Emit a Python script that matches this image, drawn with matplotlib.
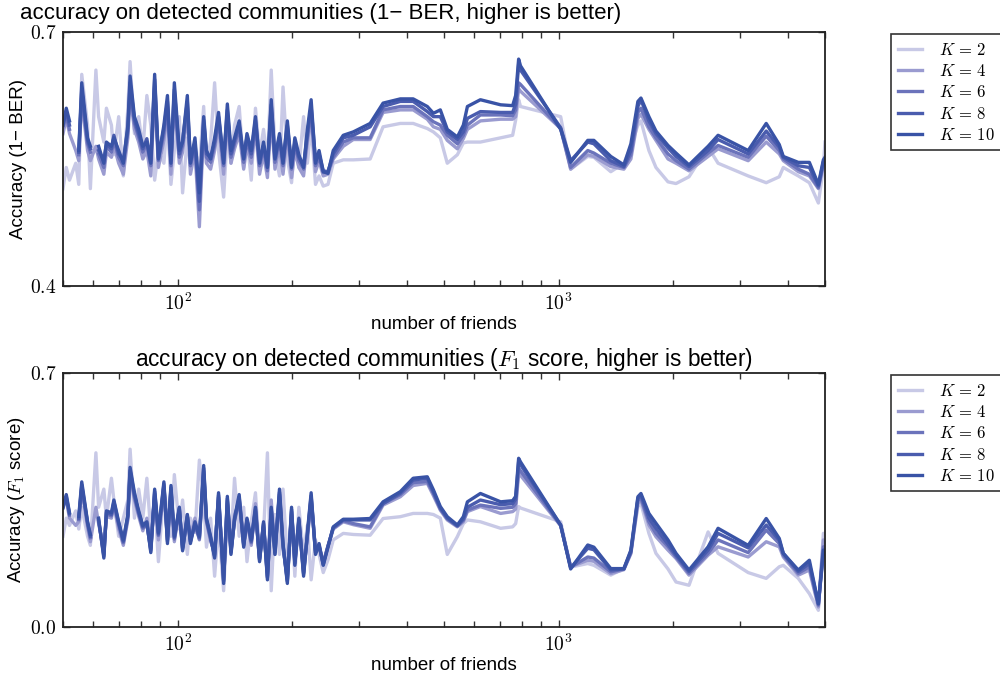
import numpy as np
import matplotlib
matplotlib.use("Agg")
import matplotlib.pyplot as plt
from matplotlib.ticker import FixedLocator, FixedFormatter, NullFormatter, LogLocator

nan = np.nan

plt.rcParams['font.family'] = ['Liberation Sans', 'DejaVu Sans']
plt.rcParams['mathtext.fontset'] = 'cm'

# number of friends: dense part (noisy, small ego nets) and sparse part (large ego nets)
friends_dense = [50, 51, 52, 54, 55, 56, 58, 59, 61, 62,
                 64, 65, 67, 68, 70, 72, 74, 75, 77, 79,
                 81, 83, 85, 87, 89, 92, 94, 96, 98, 101,
                 103, 106, 108, 111, 114, 117, 119, 122, 125, 128,
                 132, 135, 138, 141, 145, 149, 152, 156, 160, 164,
                 168, 172, 176, 180, 185, 189, 194, 199, 203, 208,
                 214, 219, 224, 230, 235, 241]
friends_sparse = [248, 256, 272, 289, 320, 346, 384, 415, 452, 469,
                  489, 510, 542, 562, 576, 623, 704, 757, 771, 785,
                  794, 1012, 1075, 1192, 1237, 1370, 1483, 1547, 1614, 1644,
                  1725, 1800, 1936, 2032, 2198, 2467, 2620, 3143, 3505, 3793,
                  3886, 4255, 4549, 4804, 4951, 5000]

k_values = [2, 4, 6, 8, 10]
colors = ['#c8c9e6', '#9a9bd0', '#6b73bb', '#4a5cae', '#3953a6']

# 1 - BER
ber_k2_dense = [0.515, 0.540, 0.525, 0.545, 0.520, 0.650, 0.590, 0.515, 0.655, 0.600,
                0.570, 0.610, 0.590, 0.555, 0.600, 0.530, 0.610, 0.665, 0.580, 0.600,
                0.560, 0.625, 0.590, 0.525, 0.560, 0.545, 0.600, 0.520, 0.560, 0.600,
                0.510, 0.575, 0.540, 0.560, 0.540, 0.612, 0.545, 0.570, 0.640, 0.560,
                0.505, 0.580, 0.545, 0.590, 0.612, 0.540, 0.575, 0.525, 0.610, 0.555,
                0.585, 0.545, 0.655, 0.560, 0.530, 0.635, 0.550, 0.522, 0.570, 0.540,
                0.600, 0.545, 0.590, 0.520, 0.530, 0.518]
ber_k4_dense = [0.580, 0.598, 0.580, 0.560, 0.548, 0.620, 0.560, 0.548, 0.565, 0.550,
                0.532, 0.558, 0.552, 0.566, 0.545, 0.532, 0.575, 0.625, 0.585, 0.570,
                0.550, 0.560, 0.530, 0.630, 0.540, 0.572, 0.605, 0.532, 0.618, 0.545,
                0.558, 0.605, 0.532, 0.560, 0.470, 0.588, 0.545, 0.538, 0.560, 0.590,
                0.532, 0.598, 0.545, 0.562, 0.580, 0.538, 0.566, 0.545, 0.585, 0.532,
                0.556, 0.528, 0.600, 0.538, 0.565, 0.532, 0.580, 0.528, 0.560, 0.540,
                0.530, 0.570, 0.600, 0.535, 0.548, 0.530]
ber_k6_dense = [0.588, 0.600, 0.585, nan, 0.555, 0.625, 0.568, 0.558, nan, 0.556,
                0.540, 0.565, 0.558, 0.572, 0.552, 0.542, 0.582, 0.632, 0.592, 0.576,
                0.558, 0.568, 0.542, 0.636, 0.548, 0.580, 0.612, 0.542, 0.626, 0.552,
                0.566, 0.612, 0.542, 0.566, 0.490, 0.592, 0.552, 0.546, 0.566, 0.596,
                0.542, 0.602, 0.552, 0.568, 0.586, 0.546, 0.572, 0.552, 0.590, 0.542,
                0.562, 0.536, 0.608, 0.546, 0.572, 0.542, 0.586, 0.538, 0.566, 0.548,
                0.538, 0.576, 0.606, 0.542, 0.552, 0.534]
ber_k8_dense = [0.592, 0.606, 0.590, nan, 0.558, 0.632, 0.572, 0.562, nan, 0.560,
                0.548, 0.568, 0.562, 0.578, 0.556, 0.548, 0.586, 0.640, 0.596, 0.580,
                0.562, 0.574, 0.548, 0.644, 0.552, 0.586, 0.618, 0.548, 0.632, 0.556,
                0.572, 0.618, 0.548, 0.570, 0.500, 0.596, 0.556, 0.552, 0.570, 0.600,
                0.548, 0.608, 0.556, 0.572, 0.590, 0.552, 0.576, 0.556, 0.596, 0.548,
                0.566, 0.542, 0.614, 0.552, 0.576, 0.548, 0.590, 0.542, 0.570, 0.552,
                0.542, 0.580, 0.612, 0.548, 0.556, 0.536]
ber_k10_dense = [0.590, 0.610, 0.595, nan, 0.560, 0.640, 0.575, 0.565, nan, 0.565,
                 0.545, 0.570, 0.565, 0.575, 0.560, 0.545, 0.590, 0.648, 0.600, 0.585,
                 0.565, 0.570, 0.545, 0.650, 0.550, 0.590, 0.625, 0.545, 0.640, 0.560,
                 0.570, 0.625, 0.545, 0.575, 0.510, 0.600, 0.560, 0.550, 0.575, 0.605,
                 0.545, 0.615, 0.560, 0.575, 0.595, 0.550, 0.580, 0.560, 0.600, 0.545,
                 0.570, 0.540, 0.620, 0.550, 0.580, 0.545, 0.595, 0.540, 0.575, 0.555,
                 0.540, 0.585, 0.620, 0.545, 0.560, 0.535]

ber_k2_sparse = [0.520, 0.545, 0.549, 0.549, 0.550, 0.588, 0.592, 0.592, 0.586, 0.582,
                 0.575, 0.545, 0.555, 0.569, 0.570, 0.570, 0.575, 0.578, 0.596, 0.620,
                 0.612, 0.600, 0.538, 0.553, 0.552, 0.535, 0.545, 0.565, 0.590, 0.595,
                 0.560, 0.540, 0.523, 0.521, 0.529, 0.564, 0.545, 0.530, 0.522, 0.529,
                 0.540, 0.530, 0.522, 0.498, 0.540, 0.570]
ber_k4_sparse = [0.532, 0.550, 0.565, 0.573, 0.573, 0.605, 0.608, 0.608, 0.597, 0.588,
                 0.585, 0.572, 0.562, 0.574, 0.585, 0.595, 0.597, 0.597, 0.600, 0.633,
                 0.630, 0.586, 0.538, 0.555, 0.553, 0.541, 0.538, 0.550, 0.598, 0.603,
                 0.585, 0.572, 0.550, 0.545, 0.536, 0.553, 0.562, 0.548, 0.570, 0.556,
                 0.548, 0.535, 0.530, 0.515, 0.543, 0.546]
ber_k6_sparse = [0.535, 0.552, 0.570, 0.575, 0.575, 0.608, 0.612, 0.612, 0.600, 0.594,
                 0.590, 0.578, 0.568, 0.578, 0.590, 0.602, 0.602, 0.601, 0.608, 0.640,
                 0.638, 0.586, 0.540, 0.560, 0.557, 0.545, 0.540, 0.555, 0.605, 0.610,
                 0.588, 0.575, 0.556, 0.548, 0.538, 0.557, 0.566, 0.552, 0.577, 0.560,
                 0.550, 0.538, 0.532, 0.516, 0.545, 0.548]
ber_k8_sparse = [0.535, 0.556, 0.575, 0.578, 0.588, 0.612, 0.618, 0.618, 0.606, 0.600,
                 0.600, 0.582, 0.573, 0.582, 0.598, 0.606, 0.605, 0.605, 0.615, 0.662,
                 0.655, 0.587, 0.548, 0.570, 0.568, 0.548, 0.541, 0.560, 0.612, 0.620,
                 0.595, 0.580, 0.563, 0.553, 0.541, 0.560, 0.573, 0.556, 0.583, 0.564,
                 0.552, 0.542, 0.540, 0.518, 0.547, 0.550]
ber_k10_sparse = [0.533, 0.560, 0.578, 0.582, 0.592, 0.616, 0.621, 0.621, 0.612, 0.604,
                  0.608, 0.585, 0.576, 0.590, 0.612, 0.620, 0.614, 0.613, 0.625, 0.668,
                  0.660, 0.585, 0.546, 0.572, 0.572, 0.553, 0.543, 0.568, 0.618, 0.622,
                  0.600, 0.583, 0.566, 0.557, 0.543, 0.565, 0.578, 0.560, 0.592, 0.567,
                  0.553, 0.546, 0.546, 0.520, 0.549, 0.552]

# F1 score
f1_k2_dense = [0.250, 0.300, 0.280, 0.320, 0.270, 0.330, 0.250, 0.225, 0.480, 0.330,
               0.380, 0.300, 0.410, 0.350, 0.250, 0.300, 0.350, 0.490, 0.300, 0.380,
               0.300, 0.410, 0.260, 0.350, 0.180, 0.380, 0.310, 0.250, 0.420, 0.270,
               0.350, 0.200, 0.300, 0.260, 0.460, 0.350, 0.220, 0.300, 0.140, 0.280,
               0.100, 0.300, 0.240, 0.410, 0.250, 0.330, 0.180, 0.290, 0.370, 0.200,
               0.260, 0.480, 0.100, 0.310, 0.200, 0.380, 0.180, 0.300, 0.140, 0.330,
               0.200, 0.280, 0.130, 0.240, 0.200, 0.150]
f1_k4_dense = [0.345, 0.350, 0.300, 0.280, 0.290, 0.380, 0.275, 0.235, 0.330, 0.285,
               0.215, 0.305, 0.300, 0.335, 0.270, 0.225, 0.295, 0.420, 0.350, 0.305,
               0.265, 0.300, 0.220, 0.360, 0.240, 0.380, 0.250, 0.370, 0.235, 0.330,
               0.225, 0.310, 0.245, 0.300, 0.240, 0.420, 0.290, 0.235, 0.210, 0.350,
               0.140, 0.340, 0.215, 0.310, 0.345, 0.230, 0.285, 0.225, 0.340, 0.190,
               0.275, 0.150, 0.350, 0.200, 0.360, 0.215, 0.140, 0.310, 0.185, 0.285,
               0.160, 0.245, 0.350, 0.205, 0.220, 0.180]
f1_k6_dense = [0.335, 0.355, 0.308, nan, 0.296, 0.386, 0.284, 0.246, nan, 0.292,
               0.200, 0.312, 0.306, 0.340, 0.282, 0.232, 0.302, 0.426, 0.358, 0.312,
               0.272, 0.282, 0.215, 0.368, 0.252, 0.388, 0.240, 0.378, 0.242, 0.322,
               0.218, 0.300, 0.240, 0.280, 0.242, 0.430, 0.292, 0.242, 0.200, 0.358,
               0.130, 0.348, 0.210, 0.292, 0.352, 0.228, 0.292, 0.232, 0.320, 0.188,
               0.282, 0.140, 0.320, 0.210, 0.366, 0.222, 0.130, 0.318, 0.180, 0.292,
               0.150, 0.252, 0.356, 0.210, 0.222, 0.175]
f1_k8_dense = [0.328, 0.360, 0.312, nan, 0.300, 0.392, 0.288, 0.250, nan, 0.296,
               0.195, 0.316, 0.310, 0.345, 0.286, 0.236, 0.306, 0.432, 0.364, 0.316,
               0.276, 0.286, 0.210, 0.374, 0.256, 0.394, 0.236, 0.384, 0.246, 0.326,
               0.214, 0.305, 0.235, 0.285, 0.246, 0.438, 0.296, 0.246, 0.195, 0.364,
               0.126, 0.354, 0.205, 0.296, 0.358, 0.224, 0.296, 0.236, 0.325, 0.184,
               0.286, 0.136, 0.325, 0.205, 0.372, 0.226, 0.126, 0.324, 0.175, 0.296,
               0.146, 0.256, 0.362, 0.205, 0.226, 0.172]
f1_k10_dense = [0.330, 0.365, 0.315, nan, 0.305, 0.400, 0.290, 0.255, nan, 0.300,
                0.190, 0.320, 0.315, 0.350, 0.290, 0.240, 0.310, 0.440, 0.370, 0.320,
                0.280, 0.290, 0.205, 0.380, 0.260, 0.400, 0.230, 0.390, 0.250, 0.330,
                0.210, 0.310, 0.230, 0.290, 0.250, 0.445, 0.300, 0.250, 0.190, 0.370,
                0.120, 0.360, 0.200, 0.300, 0.365, 0.220, 0.300, 0.240, 0.330, 0.180,
                0.290, 0.130, 0.330, 0.200, 0.380, 0.230, 0.120, 0.330, 0.170, 0.300,
                0.140, 0.260, 0.370, 0.200, 0.230, 0.170]

f1_k2_sparse = [0.185, 0.240, 0.258, 0.255, 0.253, 0.299, 0.304, 0.313, 0.313, 0.310,
                0.300, 0.200, 0.249, 0.285, 0.295, 0.290, 0.272, 0.276, 0.285, 0.332,
                0.328, 0.290, 0.165, 0.175, 0.170, 0.143, 0.161, 0.210, 0.332, 0.340,
                0.258, 0.203, 0.160, 0.124, 0.115, 0.262, 0.203, 0.150, 0.134, 0.166,
                0.170, 0.134, 0.092, 0.046, 0.258, 0.258]
f1_k4_sparse = [0.222, 0.270, 0.290, 0.282, 0.272, 0.336, 0.359, 0.390, 0.396, 0.362,
                0.322, 0.295, 0.276, 0.290, 0.318, 0.332, 0.313, 0.318, 0.325, 0.424,
                0.418, 0.279, 0.166, 0.184, 0.181, 0.147, 0.158, 0.202, 0.341, 0.350,
                0.281, 0.249, 0.212, 0.189, 0.143, 0.198, 0.221, 0.193, 0.235, 0.221,
                0.193, 0.143, 0.157, 0.055, 0.240, 0.235]
f1_k6_sparse = [0.224, 0.272, 0.293, 0.285, 0.276, 0.340, 0.365, 0.398, 0.401, 0.368,
                0.325, 0.298, 0.278, 0.294, 0.322, 0.336, 0.327, 0.330, 0.340, 0.437,
                0.430, 0.280, 0.165, 0.193, 0.190, 0.152, 0.160, 0.205, 0.350, 0.355,
                0.290, 0.258, 0.222, 0.193, 0.148, 0.203, 0.240, 0.205, 0.267, 0.230,
                0.198, 0.148, 0.166, 0.060, 0.221, 0.221]
f1_k8_sparse = [0.222, 0.274, 0.295, 0.295, 0.295, 0.340, 0.369, 0.405, 0.410, 0.372,
                0.328, 0.300, 0.279, 0.298, 0.330, 0.350, 0.337, 0.340, 0.352, 0.456,
                0.447, 0.281, 0.163, 0.217, 0.213, 0.157, 0.160, 0.208, 0.355, 0.363,
                0.300, 0.272, 0.228, 0.198, 0.153, 0.212, 0.258, 0.218, 0.281, 0.239,
                0.203, 0.153, 0.175, 0.064, 0.203, 0.208]
f1_k10_sparse = [0.220, 0.276, 0.297, 0.297, 0.299, 0.345, 0.373, 0.410, 0.414, 0.378,
                 0.332, 0.304, 0.281, 0.304, 0.345, 0.368, 0.345, 0.348, 0.360, 0.465,
                 0.455, 0.281, 0.160, 0.226, 0.220, 0.161, 0.161, 0.212, 0.359, 0.368,
                 0.313, 0.286, 0.240, 0.203, 0.157, 0.221, 0.272, 0.225, 0.299, 0.244,
                 0.203, 0.157, 0.184, 0.064, 0.212, 0.203]

friends = np.array(friends_dense + friends_sparse, dtype=float)

ber = [ber_k2_dense + ber_k2_sparse, ber_k4_dense + ber_k4_sparse,
       ber_k6_dense + ber_k6_sparse, ber_k8_dense + ber_k8_sparse,
       ber_k10_dense + ber_k10_sparse]
f1 = [f1_k2_dense + f1_k2_sparse, f1_k4_dense + f1_k4_sparse,
      f1_k6_dense + f1_k6_sparse, f1_k8_dense + f1_k8_sparse,
      f1_k10_dense + f1_k10_sparse]


def draw_panel(ax, series, ylim, ylabel):
    for k, ys, c in zip(k_values, series, colors):
        ax.plot(friends, ys, color=c, lw=2.4, label=r'$K\,=\,%d$' % k)
    ax.set_xscale('log')
    ax.set_xlim(50, 5000)
    ax.set_ylim(*ylim)
    ax.xaxis.set_major_locator(FixedLocator([100, 1000]))
    ax.xaxis.set_major_formatter(FixedFormatter(['$10^2$', '$10^3$']))
    ax.xaxis.set_minor_locator(LogLocator(base=10, subs=np.arange(2, 10)))
    ax.xaxis.set_minor_formatter(NullFormatter())
    ax.set_yticks(list(ylim))
    ax.set_yticklabels(['$%.1f$' % v for v in ylim])
    ax.tick_params(which='both', direction='in', top=True, right=True,
                   labelsize=14, width=1.0, color='#333333')
    ax.tick_params(which='major', length=5, pad=5)
    ax.tick_params(which='minor', length=4)
    for s in ax.spines.values():
        s.set_linewidth(1.3)
        s.set_color('#222222')
    ax.set_xlabel('number of friends', fontsize=13.5, labelpad=1)
    ax.set_ylabel(ylabel, fontsize=13.5, labelpad=2)
    leg = ax.legend(loc='upper left', bbox_to_anchor=(1.086, 0.992),
                    fontsize=12, frameon=True, fancybox=False,
                    edgecolor='black', handlelength=1.45, handletextpad=1.0,
                    borderaxespad=0.0, labelspacing=0.32, borderpad=0.45)
    leg.get_frame().set_linewidth(1.2)


fig = plt.figure(figsize=(10, 6.75), dpi=100)
ax1 = fig.add_axes([0.063, 0.5763, 0.762, 0.3763])
ax2 = fig.add_axes([0.063, 0.0711, 0.762, 0.3763])

draw_panel(ax1, ber, (0.4, 0.7), 'Accuracy (1\u2212 BER)')
draw_panel(ax2, f1, (0.0, 0.7), 'Accuracy ($F_1$ score)')

ax1.set_title('accuracy on detected communities (1\u2212 BER, higher is better)',
              fontsize=16, loc='left', x=-0.057, pad=9)
ax2.set_title('accuracy on detected communities ($F_1$ score, higher is better)',
              fontsize=16.3, pad=5)

fig.savefig('out.png', dpi=100)
